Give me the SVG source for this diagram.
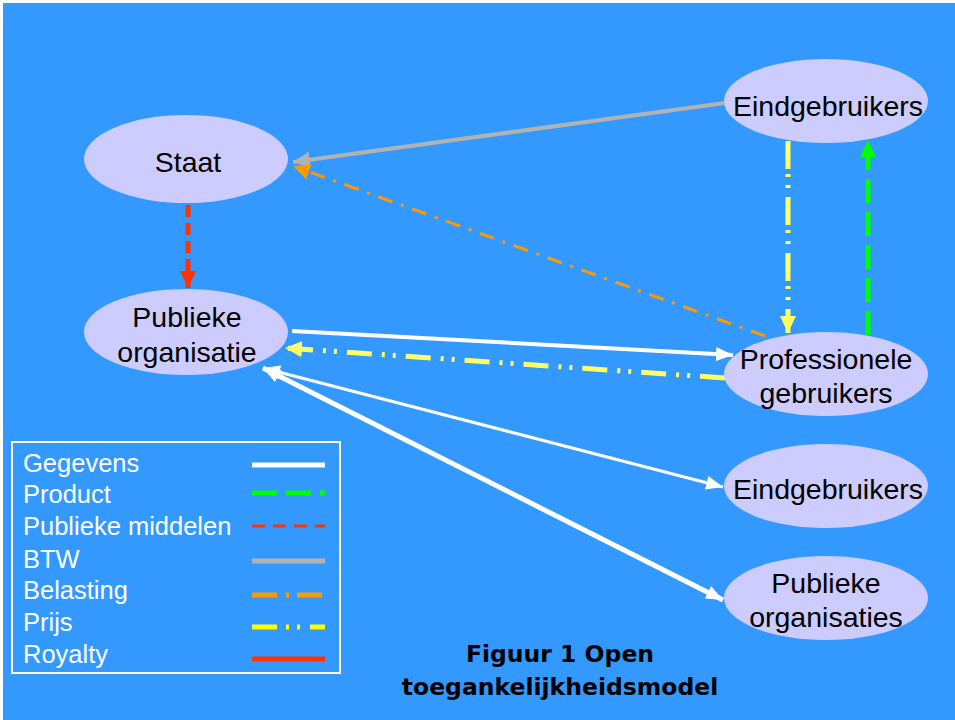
<svg xmlns="http://www.w3.org/2000/svg" width="955" height="720" viewBox="0 0 955 720">
<style>
.node{fill:#CCCCFF;stroke:none}
.lbl{font-family:"Liberation Sans",Arial,sans-serif;font-size:28.5px;fill:#000;text-anchor:middle}
.leg{font-family:"Liberation Sans",Arial,sans-serif;font-size:25.5px;fill:#fff}
.title{font-family:"DejaVu Sans",Verdana,sans-serif;font-weight:bold;font-size:23.5px;fill:#000;text-anchor:middle}
.c{fill:none}
</style>
<defs>
<marker id="aw" markerUnits="userSpaceOnUse" markerWidth="18" markerHeight="14" refX="17" refY="7" orient="auto-start-reverse"><path d="M0,0 L17,7 L0,14 z" fill="#fff"/></marker>
<marker id="ag" markerUnits="userSpaceOnUse" markerWidth="18" markerHeight="16" refX="17" refY="8" orient="auto"><path d="M0,0 L17,8 L0,16 z" fill="#B2B2B2"/></marker>
<marker id="ao" markerUnits="userSpaceOnUse" markerWidth="18" markerHeight="16" refX="17" refY="8" orient="auto"><path d="M0,0 L17,8 L0,16 z" fill="#FF9900"/></marker>
<marker id="ar" markerUnits="userSpaceOnUse" markerWidth="18" markerHeight="16" refX="17" refY="8" orient="auto"><path d="M0,0 L17,8 L0,16 z" fill="#FF3300"/></marker>
<marker id="ay" markerUnits="userSpaceOnUse" markerWidth="18" markerHeight="16" refX="17" refY="8" orient="auto"><path d="M0,0 L17,8 L0,16 z" fill="#FFFF66"/></marker>
<marker id="agr" markerUnits="userSpaceOnUse" markerWidth="18" markerHeight="16" refX="17" refY="8" orient="auto"><path d="M0,0 L17,8 L0,16 z" fill="#00FF00"/></marker>
</defs>
<rect x="0" y="0" width="955" height="720" fill="#fff"/>
<rect x="3" y="3" width="952" height="717" fill="#3399FF"/>

<g id="connectors">
<line class="c" x1="725" y1="103" x2="293" y2="162" stroke="#B2B2B2" stroke-width="4" marker-end="url(#ag)"/>
<line class="c" x1="765" y1="336" x2="293" y2="166" stroke="#FF9900" stroke-width="3" stroke-dasharray="15 9 3 9" marker-end="url(#ao)"/>
<line class="c" x1="188" y1="205" x2="188" y2="288" stroke="#FF3300" stroke-width="5" stroke-dasharray="12 6" marker-end="url(#ar)"/>
<line class="c" x1="788" y1="141" x2="788" y2="333" stroke="#FFFF66" stroke-width="5" stroke-dasharray="28 5 3 8 3 9" marker-end="url(#ay)"/>
<line class="c" x1="868" y1="335" x2="868" y2="140" stroke="#00FF00" stroke-width="5" stroke-dasharray="24 9" marker-end="url(#agr)"/>
<line class="c" x1="292" y1="331" x2="733" y2="355" stroke="#fff" stroke-width="4" marker-end="url(#aw)"/>
<line class="c" x1="725" y1="378" x2="285" y2="348" stroke="#FFFF66" stroke-width="5" stroke-dasharray="25 10 3 8 3 10" marker-end="url(#ay)"/>
<line class="c" x1="263" y1="368" x2="723" y2="487" stroke="#fff" stroke-width="3" marker-start="url(#aw)" marker-end="url(#aw)"/>
<line class="c" x1="263" y1="368" x2="723" y2="600" stroke="#fff" stroke-width="5" marker-start="url(#aw)" marker-end="url(#aw)"/>
</g>

<g id="staat"><ellipse class="node" cx="186" cy="159" rx="102" ry="44"/><text class="lbl" x="188" y="172">Staat</text></g>
<g id="publieke-organisatie"><ellipse class="node" cx="186" cy="332" rx="102" ry="43"/><text class="lbl" x="187" y="327">Publieke</text><text class="lbl" x="187" y="362">organisatie</text></g>
<g id="eindgebruikers-1"><ellipse class="node" cx="826" cy="101" rx="102" ry="42"/><text class="lbl" x="828" y="116">Eindgebruikers</text></g>
<g id="professionele-gebruikers"><ellipse class="node" cx="826" cy="374" rx="102" ry="42"/><text class="lbl" x="826" y="369">Professionele</text><text class="lbl" x="826" y="403">gebruikers</text></g>
<g id="eindgebruikers-2"><ellipse class="node" cx="826" cy="486" rx="102" ry="42"/><text class="lbl" x="828" y="499">Eindgebruikers</text></g>
<g id="publieke-organisaties"><ellipse class="node" cx="826" cy="598" rx="102" ry="42"/><text class="lbl" x="826" y="593">Publieke</text><text class="lbl" x="826" y="627">organisaties</text></g>

<g id="legend">
<rect x="12" y="442" width="328" height="231" fill="none" stroke="#fff" stroke-width="2"/>
<text class="leg" x="23" y="472">Gegevens</text>
<text class="leg" x="23" y="503">Product</text>
<text class="leg" x="23" y="535">Publieke middelen</text>
<text class="leg" x="23" y="568">BTW</text>
<text class="leg" x="23" y="599">Belasting</text>
<text class="leg" x="23" y="631">Prijs</text>
<text class="leg" x="23" y="663">Royalty</text>
<line x1="252" y1="465" x2="325" y2="465" stroke="#fff" stroke-width="5"/>
<line x1="252" y1="493" x2="325" y2="493" stroke="#00FF00" stroke-width="5" stroke-dasharray="25 9"/>
<line x1="252" y1="526" x2="325" y2="526" stroke="#FF3300" stroke-width="3" stroke-dasharray="13 8"/>
<line x1="252" y1="561" x2="325" y2="561" stroke="#B2B2B2" stroke-width="5"/>
<line x1="252" y1="595" x2="323" y2="595" stroke="#FF9900" stroke-width="5" stroke-dasharray="25 9 3 8"/>
<line x1="252" y1="627" x2="325" y2="627" stroke="#FFFF00" stroke-width="5" stroke-dasharray="25 9 3 8 3 10"/>
<line x1="252" y1="659" x2="325" y2="659" stroke="#FF3300" stroke-width="5"/>
</g>

<g id="caption">
<text class="title" x="560" y="662">Figuur 1 Open</text>
<text class="title" x="560" y="695">toegankelijkheidsmodel</text>
</g>
</svg>
